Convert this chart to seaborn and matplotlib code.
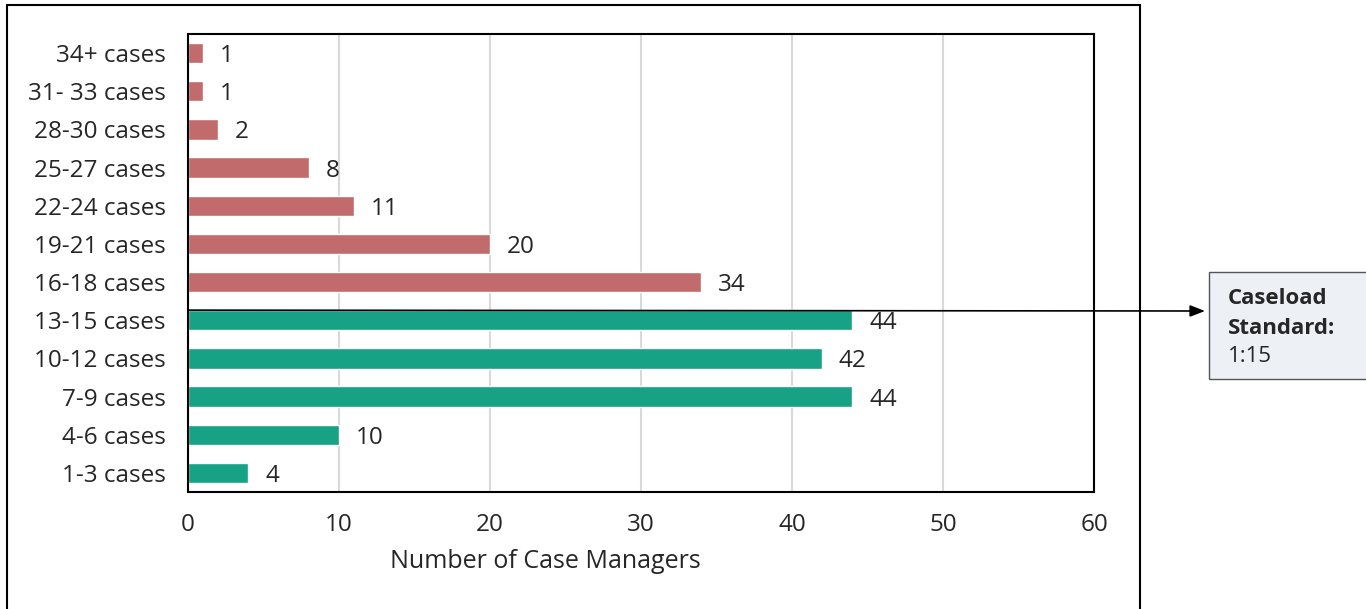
import matplotlib.pyplot as plt
import seaborn as sns
import pandas as pd
from matplotlib.patches import Rectangle

# 데이터
categories = ['34+ cases', '31- 33 cases', '28-30 cases', '25-27 cases', '22-24 cases',
              '19-21 cases', '16-18 cases', '13-15 cases', '10-12 cases', '7-9 cases',
              '4-6 cases', '1-3 cases']
counts = [1, 1, 2, 8, 11, 20, 34, 44, 42, 44, 10, 4]
over_standard = [True] * 7 + [False] * 5

RED = '#C26B6C'
GREEN = '#17A185'

sns.set_style('white')
plt.rcParams['font.family'] = ['Open Sans', 'DejaVu Sans']

df = pd.DataFrame({'caseload': categories, 'count': counts,
                   'group': ['over' if o else 'ok' for o in over_standard]})

fig = plt.figure(figsize=(13.66, 6.09), dpi=100)
ax = fig.add_axes([188 / 1366, 1 - 492 / 609, (1094 - 188) / 1366, (492 - 34) / 609])

sns.barplot(data=df, x='count', y='caseload', hue='group',
            palette={'over': RED, 'ok': GREEN}, dodge=False, width=0.53,
            saturation=1, legend=False, ax=ax)

# 값 레이블
for cont in ax.containers:
    for t in ax.bar_label(cont, padding=12, fontsize=17.5):
        t.set_va('center_baseline')

ax.set_xlim(0, 60)
ax.set_xticks(range(0, 61, 10))
ax.set_xlabel('Number of Case Managers', fontsize=18, va='top')
ax.xaxis.set_label_coords((545 - 188) / 906, -(549 - 492) / 458)
ax.set_ylabel('')
ax.tick_params(axis='y', length=0, labelsize=17.5, pad=16)
ax.tick_params(axis='x', length=0, labelsize=17.5, pad=15)
ax.xaxis.grid(True, color='#D9D9D9', linewidth=1.5)
ax.set_axisbelow(True)
for s in ax.spines.values():
    s.set_color('black')
    s.set_linewidth(1.5)

# 외곽 테두리
fig.patches.append(Rectangle((7 / 1366, -0.02), (1140 - 7) / 1366, 1.02 - 5 / 609,
                             transform=fig.transFigure, fill=False,
                             edgecolor='black', linewidth=1.5))

# 기준선 화살표
ax.annotate('', xy=(1205 / 1366, 1 - 311 / 609), xycoords='figure fraction',
            xytext=(0, 7 - 0.265), textcoords='data',
            arrowprops=dict(arrowstyle='-|>,head_length=0.9,head_width=0.35',
                            color='black', lw=1.2, shrinkA=0, shrinkB=0),
            annotation_clip=False)

# 기준 박스
fig.patches.append(Rectangle((1209 / 1366, 1 - 379 / 609), 0.2, (379 - 272) / 609,
                             transform=fig.transFigure, facecolor='#EDF0F5',
                             edgecolor='#555555', linewidth=1))
fig.text(1228 / 1366, 1 - 298 / 609, 'Caseload', fontsize=16,
         fontweight='bold', va='center', ha='left')
fig.text(1228 / 1366, 1 - 329 / 609, 'Standard:', fontsize=16,
         fontweight='bold', va='center', ha='left')
fig.text(1228 / 1366, 1 - 357 / 609, '1:15', fontsize=16, va='center', ha='left')

plt.savefig('out.png', dpi=100)
plt.close()
